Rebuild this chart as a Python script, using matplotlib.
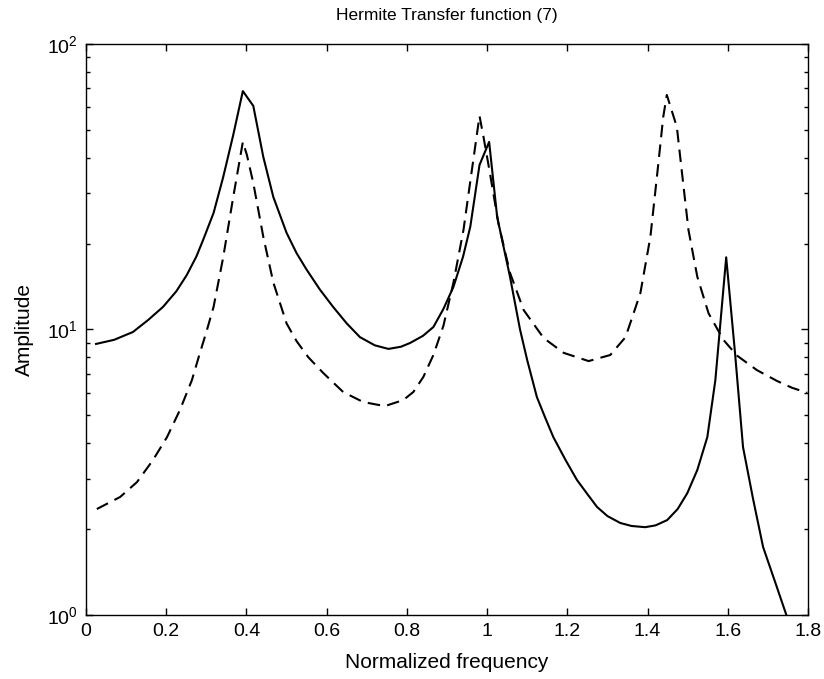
import matplotlib
matplotlib.use("Agg")
import matplotlib.pyplot as plt

plt.rcParams['font.family'] = ['Liberation Sans', 'DejaVu Sans']

# solid curve
freq_a = [0.025, 0.070, 0.117, 0.155, 0.192, 0.225, 0.251, 0.275, 0.292, 0.318,
          0.342, 0.367, 0.391, 0.417, 0.442, 0.467, 0.500, 0.525, 0.550, 0.583,
          0.616, 0.650, 0.683, 0.720, 0.754, 0.785, 0.808, 0.840, 0.866, 0.891,
          0.916, 0.940, 0.958, 0.981, 1.005, 1.025, 1.057, 1.082, 1.100, 1.124,
          1.145, 1.165, 1.195, 1.224, 1.250, 1.274, 1.300, 1.332, 1.360, 1.394,
          1.420, 1.449, 1.475, 1.499, 1.524, 1.549, 1.569, 1.596, 1.618, 1.638,
          1.663, 1.688, 1.720, 1.746]
amp_a = [8.9, 9.2, 9.8, 10.8, 12.0, 13.6, 15.5, 18.0, 20.6, 25.6,
         34.2, 48.0, 68.4, 60.7, 40.2, 29.1, 21.8, 18.5, 16.2, 13.8,
         12.0, 10.5, 9.4, 8.8, 8.55, 8.7, 8.97, 9.5, 10.2, 11.8,
         14.1, 18.0, 22.9, 37.7, 45.4, 24.8, 15.3, 10.0, 7.8, 5.8,
         4.9, 4.2, 3.5, 2.97, 2.65, 2.39, 2.22, 2.10, 2.05, 2.03,
         2.06, 2.15, 2.35, 2.67, 3.22, 4.2, 6.65, 17.9, 8.28, 3.87,
         2.55, 1.73, 1.28, 1.0]

# dashed curve
freq_b = [0.027, 0.085, 0.127, 0.167, 0.202, 0.234, 0.264, 0.284, 0.300, 0.318,
          0.342, 0.367, 0.391, 0.401, 0.417, 0.442, 0.467, 0.500, 0.525, 0.554,
          0.591, 0.641, 0.691, 0.745, 0.791, 0.816, 0.841, 0.866, 0.891, 0.916,
          0.941, 0.962, 0.981, 0.991, 1.007, 1.028, 1.057, 1.091, 1.141, 1.191,
          1.253, 1.307, 1.345, 1.382, 1.407, 1.427, 1.439, 1.448, 1.473, 1.485,
          1.502, 1.524, 1.552, 1.589, 1.623, 1.673, 1.723, 1.760, 1.798]
amp_b = [2.35, 2.59, 2.92, 3.49, 4.2, 5.22, 6.65, 8.28, 9.8, 12.0,
         17.9, 29.1, 45.4, 40.9, 32.6, 21.1, 14.6, 10.5, 9.1, 8.0,
         7.05, 6.04, 5.57, 5.39, 5.66, 6.04, 6.82, 8.14, 10.3, 14.6,
         22.3, 36.2, 56.0, 47.2, 35.3, 23.6, 15.8, 11.7, 9.33, 8.28,
         7.75, 8.14, 9.4, 13.4, 21.1, 38.3, 55.5, 66.3, 51.2, 36.2,
         22.3, 15.3, 11.4, 9.2, 8.1, 7.2, 6.6, 6.25, 6.0]

fig = plt.figure(figsize=(8.24, 6.79), dpi=100)
ax = fig.add_axes([0.1044, 0.0943, 0.8762, 0.8409])

ax.plot(freq_a, amp_a, color='black', lw=1.5)
ax.plot(freq_b, amp_b, color='black', lw=1.5, dashes=(6, 3.5))

ax.set_yscale('log')
ax.set_xlim(0, 1.8)
ax.set_ylim(1, 100)
ax.set_xticks([0, 0.2, 0.4, 0.6, 0.8, 1, 1.2, 1.4, 1.6, 1.8])
ax.set_xticklabels(['0', '0.2', '0.4', '0.6', '0.8', '1', '1.2', '1.4', '1.6', '1.8'])

ax.tick_params(which='both', direction='in', top=True, right=True, labelsize=14)
ax.tick_params(which='major', length=5, width=1)
ax.tick_params(which='minor', length=3, width=1)
ax.tick_params(axis='x', pad=6)
ax.tick_params(axis='y', pad=6)
for s in ax.spines.values():
    s.set_linewidth(1)

ax.set_title('Hermite Transfer function (7)', fontsize=12.5, pad=17)
ax.set_xlabel('Normalized frequency', fontsize=15, labelpad=9)
ax.set_ylabel('Amplitude', fontsize=15, labelpad=9)

fig.savefig('out.png', dpi=100)
